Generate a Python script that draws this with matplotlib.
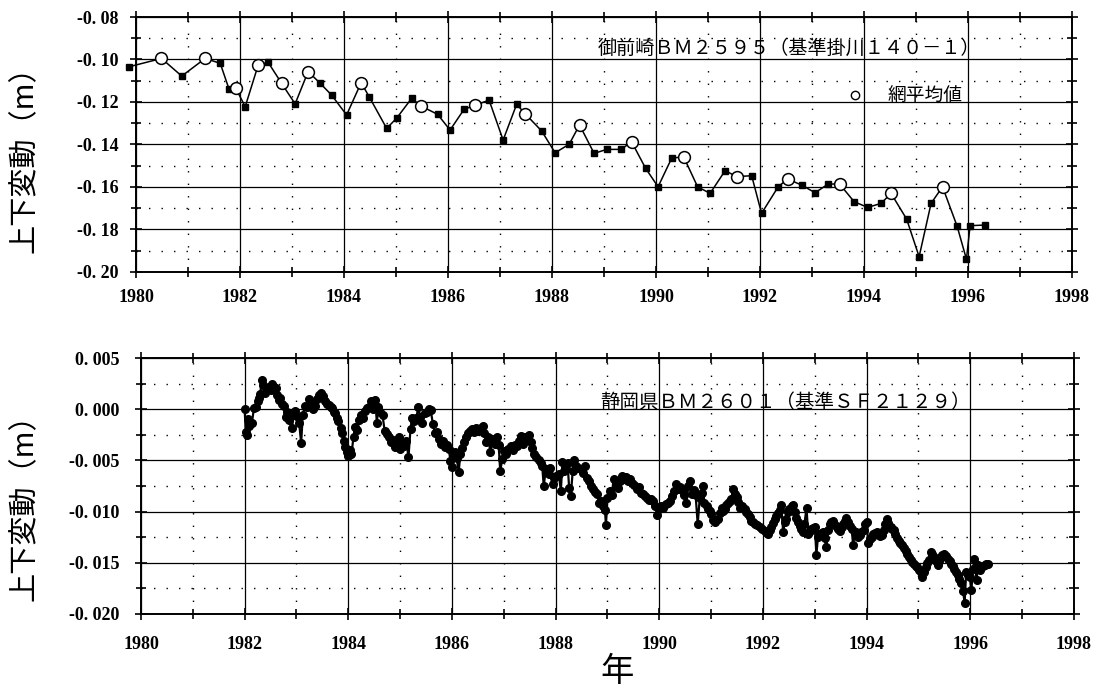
import numpy as np
import matplotlib.pyplot as plt
from matplotlib.ticker import MultipleLocator, FuncFormatter

plt.rcParams['font.family'] = ['Liberation Serif', 'Noto Sans CJK JP']
JP = ['Noto Sans CJK JP', 'DejaVu Sans']

# 御前崎BM2595 (基準 掛川140-1) : 水準測量
t_omae = [1979.87, 1980.88, 1981.62, 1981.79, 1982.10, 1982.54, 1983.06, 1983.53,
          1983.76, 1984.05, 1984.49, 1984.82, 1985.01, 1985.30, 1985.80, 1986.04,
          1986.31, 1986.79, 1987.06, 1987.32, 1987.80, 1988.06, 1988.33, 1988.81,
          1989.05, 1989.33, 1989.80, 1990.04, 1990.30, 1990.80, 1991.04, 1991.33,
          1991.84, 1992.03, 1992.35, 1992.80, 1993.06, 1993.31, 1993.81, 1994.07,
          1994.33, 1994.82, 1995.06, 1995.29, 1995.79, 1995.97, 1996.04, 1996.33]
h_omae = [-0.1034, -0.1078, -0.1018, -0.1140, -0.1222, -0.1013, -0.1209, -0.1109,
          -0.1167, -0.1261, -0.1178, -0.1324, -0.1277, -0.1183, -0.1258, -0.1332,
          -0.1234, -0.1191, -0.1379, -0.1211, -0.1336, -0.1439, -0.1399, -0.1442,
          -0.1423, -0.1423, -0.1512, -0.1599, -0.1465, -0.1599, -0.1630, -0.1523,
          -0.1547, -0.1724, -0.1599, -0.1591, -0.1627, -0.1586, -0.1669, -0.1696,
          -0.1677, -0.1751, -0.1928, -0.1677, -0.1784, -0.1940, -0.1782, -0.1779]

# 網平均値
t_net = [1980.49, 1981.33, 1981.92, 1982.35, 1982.80, 1983.31, 1984.33, 1985.48,
         1986.52, 1987.49, 1988.53, 1989.53, 1990.53, 1991.55, 1992.53, 1993.53,
         1994.52, 1995.51]
h_net = [-0.0995, -0.0995, -0.1136, -0.1026, -0.1112, -0.1057, -0.1109, -0.1219,
         -0.1216, -0.1257, -0.1308, -0.1387, -0.1457, -0.1551, -0.1562, -0.1586,
         -0.1630, -0.1599]

# 静岡県BM2601 (基準 SF2129) : 連続観測
t_shizu = [
    1982.00, 1982.02, 1982.04, 1982.06, 1982.09, 1982.14, 1982.18, 1982.21, 1982.25, 1982.28,
    1982.30, 1982.33, 1982.36, 1982.40, 1982.43, 1982.47, 1982.50, 1982.53, 1982.57, 1982.60,
    1982.62, 1982.66, 1982.69, 1982.72, 1982.75, 1982.79, 1982.82, 1982.85, 1982.88, 1982.91,
    1982.95, 1982.98, 1983.02, 1983.05, 1983.09, 1983.12, 1983.16, 1983.20, 1983.24, 1983.27,
    1983.31, 1983.36, 1983.40, 1983.44, 1983.47, 1983.51, 1983.55, 1983.59, 1983.63, 1983.66,
    1983.69, 1983.72, 1983.75, 1983.78, 1983.81, 1983.85, 1983.88, 1983.91, 1983.94, 1983.97,
    1984.00, 1984.03, 1984.06, 1984.10, 1984.13, 1984.16, 1984.20, 1984.24, 1984.28, 1984.32,
    1984.36, 1984.40, 1984.44, 1984.48, 1984.52, 1984.55, 1984.58, 1984.62, 1984.66, 1984.70,
    1984.74, 1984.78, 1984.82, 1984.86, 1984.90, 1984.94, 1984.97, 1985.00, 1985.04, 1985.08,
    1985.12, 1985.16, 1985.20, 1985.23, 1985.27, 1985.31, 1985.35, 1985.39, 1985.43, 1985.47,
    1985.51, 1985.55, 1985.59, 1985.63, 1985.67, 1985.71, 1985.75, 1985.79, 1985.83, 1985.87,
    1985.91, 1985.94, 1985.97, 1986.00, 1986.03, 1986.06, 1986.09, 1986.13, 1986.16, 1986.20,
    1986.23, 1986.27, 1986.31, 1986.35, 1986.39, 1986.43, 1986.47, 1986.51, 1986.55, 1986.59,
    1986.62, 1986.66, 1986.70, 1986.74, 1986.78, 1986.82, 1986.86, 1986.90, 1986.93, 1986.97,
    1987.01, 1987.05, 1987.09, 1987.13, 1987.17, 1987.21, 1987.25, 1987.29, 1987.33, 1987.37,
    1987.41, 1987.45, 1987.49, 1987.52, 1987.55, 1987.59, 1987.63, 1987.67, 1987.71, 1987.74,
    1987.77, 1987.81, 1987.84, 1987.87, 1987.90, 1987.94, 1987.97, 1988.01, 1988.06, 1988.10,
    1988.13, 1988.17, 1988.20, 1988.23, 1988.26, 1988.29, 1988.33, 1988.36, 1988.40, 1988.44,
    1988.48, 1988.52, 1988.56, 1988.60, 1988.64, 1988.68, 1988.72, 1988.76, 1988.80, 1988.84,
    1988.88, 1988.91, 1988.95, 1988.97, 1989.00, 1989.04, 1989.08, 1989.12, 1989.16, 1989.20,
    1989.24, 1989.28, 1989.32, 1989.36, 1989.40, 1989.44, 1989.48, 1989.52, 1989.56, 1989.60,
    1989.64, 1989.68, 1989.72, 1989.76, 1989.80, 1989.84, 1989.88, 1989.92, 1989.96, 1990.00,
    1990.04, 1990.08, 1990.12, 1990.16, 1990.20, 1990.24, 1990.28, 1990.32, 1990.36, 1990.40,
    1990.44, 1990.48, 1990.52, 1990.56, 1990.60, 1990.63, 1990.66, 1990.70, 1990.74, 1990.78,
    1990.82, 1990.84, 1990.87, 1990.91, 1990.94, 1990.97, 1991.00, 1991.04, 1991.07, 1991.10,
    1991.13, 1991.17, 1991.20, 1991.23, 1991.26, 1991.29, 1991.32, 1991.36, 1991.39, 1991.42,
    1991.46, 1991.49, 1991.52, 1991.55, 1991.60, 1991.65, 1991.68, 1991.71, 1991.74, 1991.77,
    1991.81, 1991.84, 1991.89, 1991.94, 1991.98, 1992.03, 1992.07, 1992.10, 1992.13, 1992.16,
    1992.20, 1992.23, 1992.26, 1992.29, 1992.32, 1992.35, 1992.39, 1992.42, 1992.45, 1992.48,
    1992.51, 1992.55, 1992.58, 1992.61, 1992.64, 1992.68, 1992.71, 1992.74, 1992.77, 1992.80,
    1992.84, 1992.87, 1992.90, 1992.93, 1992.97, 1993.00, 1993.03, 1993.06, 1993.09, 1993.13,
    1993.16, 1993.19, 1993.22, 1993.26, 1993.29, 1993.32, 1993.35, 1993.38, 1993.42, 1993.45,
    1993.48, 1993.52, 1993.55, 1993.58, 1993.61, 1993.64, 1993.67, 1993.71, 1993.74, 1993.77,
    1993.80, 1993.84, 1993.87, 1993.90, 1993.94, 1993.97, 1994.00, 1994.03, 1994.06, 1994.10,
    1994.13, 1994.16, 1994.20, 1994.23, 1994.26, 1994.29, 1994.33, 1994.36, 1994.39, 1994.42,
    1994.46, 1994.49, 1994.52, 1994.55, 1994.58, 1994.62, 1994.65, 1994.68, 1994.72, 1994.75,
    1994.78, 1994.81, 1994.85, 1994.88, 1994.91, 1994.95, 1994.98, 1995.01, 1995.04, 1995.07,
    1995.10, 1995.14, 1995.17, 1995.21, 1995.24, 1995.27, 1995.30, 1995.33, 1995.37, 1995.40,
    1995.43, 1995.46, 1995.50, 1995.53, 1995.56, 1995.60, 1995.63, 1995.66, 1995.69, 1995.73,
    1995.76, 1995.79, 1995.82, 1995.86, 1995.89, 1995.92, 1995.95, 1995.99, 1996.02, 1996.05,
    1996.08, 1996.12, 1996.15, 1996.18, 1996.21, 1996.25, 1996.28, 1996.31, 1996.35]
h_shizu = [
    0.0000, -0.0022, -0.0025, -0.0010, -0.0016, -0.0013, 0.0001, 0.0002, 0.0008, 0.0011,
    0.0015, 0.0029, 0.0024, 0.0016, 0.0020, 0.0022, 0.0019, 0.0025, 0.0022, 0.0021,
    0.0014, 0.0009, 0.0011, 0.0005, 0.0003, -0.0008, -0.0003, -0.0011, -0.0004, -0.0018,
    -0.0006, -0.0002, -0.0008, -0.0013, -0.0033, -0.0006, 0.0003, 0.0002, 0.0010, 0.0007,
    0.0000, 0.0003, 0.0010, 0.0014, 0.0016, 0.0013, 0.0008, 0.0005, 0.0004, 0.0002,
    0.0001, -0.0003, -0.0004, -0.0009, -0.0012, -0.0018, -0.0023, -0.0031, -0.0037, -0.0042,
    -0.0046, -0.0040, -0.0044, -0.0027, -0.0017, -0.0020, -0.0011, -0.0006, -0.0009, -0.0002,
    0.0001, 0.0002, 0.0008, 0.0000, 0.0009, -0.0013, 0.0002, -0.0003, -0.0006, -0.0021,
    -0.0024, -0.0027, -0.0032, -0.0030, -0.0037, -0.0033, -0.0027, -0.0039, -0.0034, -0.0036,
    -0.0031, -0.0047, -0.0019, -0.0009, -0.0012, -0.0009, 0.0002, -0.0008, -0.0013, -0.0004,
    -0.0003, 0.0000, -0.0001, -0.0014, -0.0023, -0.0022, -0.0029, -0.0034, -0.0031, -0.0037,
    -0.0035, -0.0039, -0.0051, -0.0056, -0.0045, -0.0042, -0.0048, -0.0061, -0.0044, -0.0038,
    -0.0032, -0.0027, -0.0023, -0.0021, -0.0019, -0.0022, -0.0018, -0.0021, -0.0018, -0.0016,
    -0.0023, -0.0032, -0.0027, -0.0042, -0.0029, -0.0034, -0.0027, -0.0035, -0.0060, -0.0049,
    -0.0041, -0.0044, -0.0039, -0.0036, -0.0040, -0.0035, -0.0036, -0.0031, -0.0026, -0.0034,
    -0.0027, -0.0030, -0.0025, -0.0032, -0.0038, -0.0044, -0.0047, -0.0050, -0.0053, -0.0055,
    -0.0075, -0.0058, -0.0061, -0.0063, -0.0057, -0.0073, -0.0067, -0.0065, -0.0063, -0.0080,
    -0.0052, -0.0060, -0.0058, -0.0053, -0.0077, -0.0085, -0.0060, -0.0050, -0.0055, -0.0057,
    -0.0058, -0.0062, -0.0055, -0.0067, -0.0070, -0.0075, -0.0078, -0.0081, -0.0083, -0.0092,
    -0.0090, -0.0095, -0.0098, -0.0113, -0.0087, -0.0080, -0.0084, -0.0068, -0.0075, -0.0077,
    -0.0070, -0.0065, -0.0068, -0.0066, -0.0070, -0.0068, -0.0072, -0.0074, -0.0078, -0.0076,
    -0.0082, -0.0083, -0.0085, -0.0087, -0.0089, -0.0088, -0.0090, -0.0095, -0.0103, -0.0097,
    -0.0095, -0.0096, -0.0093, -0.0092, -0.0090, -0.0085, -0.0080, -0.0073, -0.0078, -0.0076,
    -0.0079, -0.0084, -0.0092, -0.0075, -0.0070, -0.0083, -0.0079, -0.0084, -0.0112, -0.0087,
    -0.0082, -0.0075, -0.0092, -0.0095, -0.0097, -0.0099, -0.0102, -0.0108, -0.0110, -0.0108,
    -0.0107, -0.0101, -0.0096, -0.0099, -0.0097, -0.0094, -0.0092, -0.0090, -0.0088, -0.0078,
    -0.0083, -0.0086, -0.0091, -0.0096, -0.0095, -0.0097, -0.0100, -0.0102, -0.0105, -0.0109,
    -0.0110, -0.0112, -0.0113, -0.0115, -0.0117, -0.0119, -0.0121, -0.0122, -0.0118, -0.0115,
    -0.0111, -0.0107, -0.0104, -0.0101, -0.0098, -0.0094, -0.0120, -0.0110, -0.0107, -0.0100,
    -0.0097, -0.0095, -0.0094, -0.0100, -0.0106, -0.0110, -0.0114, -0.0117, -0.0120, -0.0112,
    -0.0096, -0.0122, -0.0119, -0.0117, -0.0116, -0.0115, -0.0142, -0.0125, -0.0122, -0.0121,
    -0.0120, -0.0126, -0.0135, -0.0118, -0.0112, -0.0110, -0.0109, -0.0113, -0.0115, -0.0117,
    -0.0119, -0.0115, -0.0112, -0.0109, -0.0106, -0.0110, -0.0114, -0.0117, -0.0133, -0.0120,
    -0.0120, -0.0125, -0.0123, -0.0120, -0.0118, -0.0112, -0.0110, -0.0131, -0.0127, -0.0125,
    -0.0122, -0.0121, -0.0120, -0.0121, -0.0124, -0.0123, -0.0118, -0.0112, -0.0107, -0.0111,
    -0.0115, -0.0117, -0.0118, -0.0122, -0.0126, -0.0129, -0.0131, -0.0133, -0.0136, -0.0138,
    -0.0141, -0.0144, -0.0147, -0.0149, -0.0151, -0.0153, -0.0154, -0.0157, -0.0159, -0.0164,
    -0.0159, -0.0154, -0.0150, -0.0147, -0.0139, -0.0141, -0.0144, -0.0148, -0.0152, -0.0148,
    -0.0144, -0.0142, -0.0141, -0.0143, -0.0146, -0.0148, -0.0151, -0.0153, -0.0156, -0.0159,
    -0.0162, -0.0166, -0.0170, -0.0178, -0.0189, -0.0159, -0.0162, -0.0164, -0.0177, -0.0156,
    -0.0146, -0.0167, -0.0152, -0.0157, -0.0154, -0.0153, -0.0152, -0.0151, -0.0151]

W, H = 1099, 690


def dotfmt(nd):
    return FuncFormatter(lambda v, _: f"{v:.{nd}f}".replace(".", ". "))


def setup(ax, ymin, ymax, ystep, nd, xpad, ypad):
    ax.set_xlim(1980, 1998)
    ax.set_ylim(ymin, ymax)
    ax.xaxis.set_major_locator(MultipleLocator(2))
    ax.xaxis.set_minor_locator(MultipleLocator(1))
    ax.yaxis.set_major_locator(MultipleLocator(ystep))
    ax.yaxis.set_minor_locator(MultipleLocator(ystep / 2))
    ax.yaxis.set_major_formatter(dotfmt(nd))
    ax.grid(which='major', color='k', lw=0.9)
    ax.grid(which='minor', color='k', lw=1.0, ls=(0, (1, 8)))
    ax.set_axisbelow(True)
    ax.tick_params(which='both', direction='inout', top=True, right=True,
                   labelsize=13, width=1.2)
    ax.tick_params(which='major', length=9)
    ax.tick_params(which='minor', length=7)
    ax.tick_params(axis='x', pad=xpad)
    ax.tick_params(axis='y', pad=ypad)
    for lab in ax.get_xticklabels() + ax.get_yticklabels():
        lab.set_fontweight('bold')
    for s in ax.spines.values():
        s.set_linewidth(1.4)


fig = plt.figure(figsize=(W / 100, H / 100), dpi=100)

# 上段 : 御前崎
ax1 = fig.add_axes([136 / W, 1 - 272 / H, (1072 - 136) / W, (272 - 17) / H])
setup(ax1, -0.20, -0.08, 0.02, 2, 8, 8)
t_all = np.concatenate([t_omae, t_net])
h_all = np.concatenate([h_omae, h_net])
order = np.argsort(t_all)
ax1.plot(t_all[order], h_all[order], '-', color='k', lw=1.1, zorder=3, clip_on=False)
ax1.plot(t_omae, h_omae, 's', color='k', ms=3.8, zorder=4, clip_on=False)
ax1.plot(t_net, h_net, 'o', mfc='white', mec='k', mew=1.1, ms=8.5, zorder=5)
ax1.text(1988.87, -0.0946, '御前崎ＢＭ２５９５（基準掛川１４０－１）', family=JP,
         fontsize=13.8, ha='left', va='center', zorder=6)
ax1.plot([1993.83], [-0.1167], 'o', mfc='white', mec='k', mew=1.0, ms=6, zorder=6)
ax1.text(1994.46, -0.1167, '網平均値', family=JP, fontsize=13.5,
         ha='left', va='center', zorder=6)

# 下段 : 静岡県
ax2 = fig.add_axes([141 / W, 1 - 614 / H, (1074 - 141) / W, (614 - 358) / H])
setup(ax2, -0.020, 0.005, 0.005, 3, 11, 11)
ax2.plot(t_shizu, h_shizu, '-o', color='k', lw=1.6, ms=5.5, zorder=3)
ax2.text(1988.86, 0.0007, '静岡県ＢＭ２６０１（基準ＳＦ２１２９）', family=JP,
         fontsize=14, ha='left', va='center', zorder=6)

fig.text(25 / W, 1 - 152 / H, '上下変動（m）', family=JP, fontsize=21,
         rotation=90, ha='center', va='center')
fig.text(25 / W, 1 - 500 / H, '上下変動（m）', family=JP, fontsize=21,
         rotation=90, ha='center', va='center')
fig.text(617 / W, 1 - 672 / H, '年', family=JP, fontsize=24,
         ha='center', va='center')

fig.savefig('out.png', dpi=100)
